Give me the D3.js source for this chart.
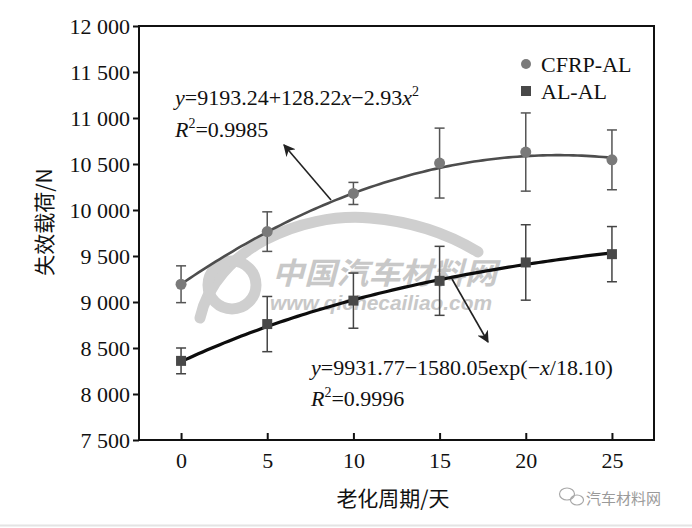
<!DOCTYPE html>
<html><head><meta charset="utf-8">
<script src="https://cdn.jsdelivr.net/npm/d3@7"></script>
<style>
html,body{margin:0;padding:0;background:#fff;}
svg{display:block;}
</style></head>
<body>
<svg id="c" width="692" height="528"></svg>
<script>
// ---- data ----
const days = [0, 5, 10, 15, 20, 25];
const cfrpMean = [9193, 9765, 10180, 10510, 10630, 10545];
const cfrpErr  = [200, 215, 120, 380, 425, 325];
const alMean   = [8360, 8760, 9015, 9230, 9430, 9520];
const alErr    = [140, 300, 300, 375, 410, 300];
const cfrpFit  = [9193.24, 128.22, -2.93];      // a + b x + c x^2
const alFit    = [9931.77, 1580.05, 18.10];     // a - b exp(-x/c)
const yTicks   = [7500, 8000, 8500, 9000, 9500, 10000, 10500, 11000, 11500, 12000];
const xTicks   = [0, 5, 10, 15, 20, 25];
const seriesNames = ["CFRP-AL", "AL-AL"];

const svg = d3.select("#c");
const L = 139, R = 654, T = 26, B = 440;
const x = d3.scaleLinear().domain([-2.44, 27.44]).range([L, R]);
const y = d3.scaleLinear().domain([7500, 12000]).range([B, T]);
const serif = "'Liberation Serif','Times New Roman',serif";
const cjk = "'Noto Sans CJK SC','Noto Sans CJK JP',sans-serif";

// ---- watermark ----
const wm = svg.append("g").attr("fill", "none").attr("stroke", "#cfcfcf");
wm.append("path").attr("d", "M200,318 C215,250 300,212 370,218 C420,222 455,238 478,252")
  .attr("stroke-width", 11).attr("stroke-linecap", "round");
wm.append("circle").attr("cx", 232).attr("cy", 285).attr("r", 24).attr("stroke-width", 11);
svg.append("text").attr("x", 272).attr("y", 284).attr("font-family", cjk)
  .attr("font-size", 30).attr("font-weight", "bold").attr("font-style", "italic")
  .attr("fill", "#c8c8c8").attr("textLength", 225).attr("lengthAdjust", "spacingAndGlyphs")
  .text("中国汽车材料网");
svg.append("text").attr("x", 270).attr("y", 310).attr("font-family", "'Liberation Sans',Arial,sans-serif")
  .attr("font-size", 20).attr("font-weight", "bold").attr("font-style", "italic")
  .attr("fill", "#c8c8c8").attr("textLength", 222).attr("lengthAdjust", "spacingAndGlyphs")
  .text("www.qichecailiao.com");

// ---- frame ----
svg.append("rect").attr("x", L).attr("y", T).attr("width", R - L).attr("height", B - T)
  .attr("fill", "none").attr("stroke", "#111").attr("stroke-width", 2);

// ---- axes ----
const yAxis = svg.append("g").attr("transform", `translate(${L},0)`)
  .call(d3.axisLeft(y).tickValues(yTicks).tickSize(6).tickPadding(3)
    .tickFormat(d => d3.format(",")(d).replace(",", " ")));
yAxis.select(".domain").remove();
yAxis.selectAll("line").attr("stroke", "#111").attr("stroke-width", 2);
yAxis.selectAll("text").attr("font-family", serif).attr("font-size", 22).attr("fill", "#111");

const xAxis = svg.append("g").attr("transform", `translate(0,${B})`)
  .call(d3.axisBottom(x).tickValues(xTicks).tickSize(-7).tickPadding(12));
xAxis.select(".domain").remove();
xAxis.selectAll("line").attr("stroke", "#111").attr("stroke-width", 2);
xAxis.selectAll("text").attr("font-family", serif).attr("font-size", 22).attr("fill", "#111");

// ---- axis titles ----
svg.append("text").attr("x", 393).attr("y", 506).attr("text-anchor", "middle")
  .attr("font-family", cjk).attr("font-size", 21).attr("fill", "#111").text("老化周期/天");
svg.append("text").attr("transform", "translate(52,222) rotate(-90)").attr("text-anchor", "middle")
  .attr("font-family", cjk).attr("font-size", 21).attr("fill", "#111").text("失效载荷/N");

// ---- error bars ----
function errBars(mean, err, color) {
  const g = svg.append("g").attr("stroke", color).attr("stroke-width", 1.5).attr("fill", "none");
  days.forEach((d, i) => {
    const cx = x(d), y1 = y(mean[i] + err[i]), y2 = y(mean[i] - err[i]);
    g.append("line").attr("x1", cx).attr("x2", cx).attr("y1", y1).attr("y2", y2);
    g.append("line").attr("x1", cx - 5).attr("x2", cx + 5).attr("y1", y1).attr("y2", y1);
    g.append("line").attr("x1", cx - 5).attr("x2", cx + 5).attr("y1", y2).attr("y2", y2);
  });
}
errBars(cfrpMean, cfrpErr, "#555");
errBars(alMean, alErr, "#444");

// ---- fitted curves (from the equations shown on the chart) ----
const xs = d3.range(0, 25.01, 0.25);
const line = d3.line().x(d => x(d[0])).y(d => y(d[1])).curve(d3.curveLinear);
svg.append("path")
  .datum(xs.map(v => [v, cfrpFit[0] + cfrpFit[1] * v + cfrpFit[2] * v * v]))
  .attr("d", line).attr("fill", "none").attr("stroke", "#4d4d4d").attr("stroke-width", 2.6);
svg.append("path")
  .datum(xs.map(v => [v, alFit[0] - alFit[1] * Math.exp(-v / alFit[2])]))
  .attr("d", line).attr("fill", "none").attr("stroke", "#0d0d0d").attr("stroke-width", 3.2);

// ---- markers ----
svg.append("g").selectAll("circle").data(days).join("circle")
  .attr("cx", d => x(d)).attr("cy", (d, i) => y(cfrpMean[i])).attr("r", 5.5)
  .attr("fill", "#7a7a7a");
svg.append("g").selectAll("rect").data(days).join("rect")
  .attr("x", d => x(d) - 5).attr("y", (d, i) => y(alMean[i]) - 5)
  .attr("width", 10).attr("height", 10).attr("fill", "#484848");

// ---- legend ----
svg.append("circle").attr("cx", 526).attr("cy", 64).attr("r", 5).attr("fill", "#7a7a7a");
svg.append("rect").attr("x", 521).attr("y", 86).attr("width", 10).attr("height", 10).attr("fill", "#484848");
svg.append("text").attr("x", 541).attr("y", 72).attr("font-family", serif).attr("font-size", 22)
  .attr("fill", "#111").text(seriesNames[0]);
svg.append("text").attr("x", 541).attr("y", 99).attr("font-family", serif).attr("font-size", 22)
  .attr("fill", "#111").text(seriesNames[1]);

// ---- annotations ----
const defs = svg.append("defs");
defs.append("marker").attr("id", "ah").attr("viewBox", "0 0 10 10").attr("refX", 9).attr("refY", 5)
  .attr("markerWidth", 12).attr("markerHeight", 12).attr("markerUnits", "userSpaceOnUse")
  .attr("orient", "auto").append("path").attr("d", "M0,0 L10,5 L0,10 L3,5 Z").attr("fill", "#222");
svg.append("line").attr("x1", 331).attr("y1", 200).attr("x2", 284).attr("y2", 145)
  .attr("stroke", "#222").attr("stroke-width", 1.6).attr("marker-end", "url(#ah)");
svg.append("line").attr("x1", 452).attr("y1", 279).attr("x2", 488).attr("y2", 342)
  .attr("stroke", "#222").attr("stroke-width", 1.6).attr("marker-end", "url(#ah)");

function eq(xp, yp, parts) {
  const t = svg.append("text").attr("x", xp).attr("y", yp).attr("font-family", serif)
    .attr("font-size", 22).attr("fill", "#111");
  parts.forEach(p => {
    const s = t.append("tspan").text(p.t);
    if (p.i) s.attr("font-style", "italic");
    if (p.sup) s.attr("font-size", 14).attr("dy", -9);
    if (p.down) s.attr("dy", 9);
  });
}
eq(175, 105, [{t: "y", i: 1}, {t: "=9193.24+128.22"}, {t: "x", i: 1}, {t: "\u22122.93"}, {t: "x", i: 1}, {t: "2", sup: 1}]);
eq(175, 137, [{t: "R", i: 1}, {t: "2", sup: 1}, {t: "=0.9985", down: 1}]);
eq(311, 375, [{t: "y", i: 1}, {t: "=9931.77\u22121580.05exp(\u2212"}, {t: "x", i: 1}, {t: "/18.10)"}]);
eq(311, 406, [{t: "R", i: 1}, {t: "2", sup: 1}, {t: "=0.9996", down: 1}]);

// ---- corner watermark ----
const wc = svg.append("g").attr("fill", "none").attr("stroke", "#a8a8a8").attr("stroke-width", 1.2);
wc.append("ellipse").attr("cx", 567).attr("cy", 494).attr("rx", 7.5).attr("ry", 6);
wc.append("ellipse").attr("cx", 577).attr("cy", 500).attr("rx", 6.5).attr("ry", 5);
svg.append("text").attr("x", 586).attr("y", 504).attr("font-family", cjk).attr("font-size", 15)
  .attr("fill", "#9a9a9a").text("汽车材料网");
svg.append("line").attr("x1", 0).attr("x2", 692).attr("y1", 525.5).attr("y2", 525.5)
  .attr("stroke", "#e4e4e4").attr("stroke-width", 2);
</script>
</body></html>
